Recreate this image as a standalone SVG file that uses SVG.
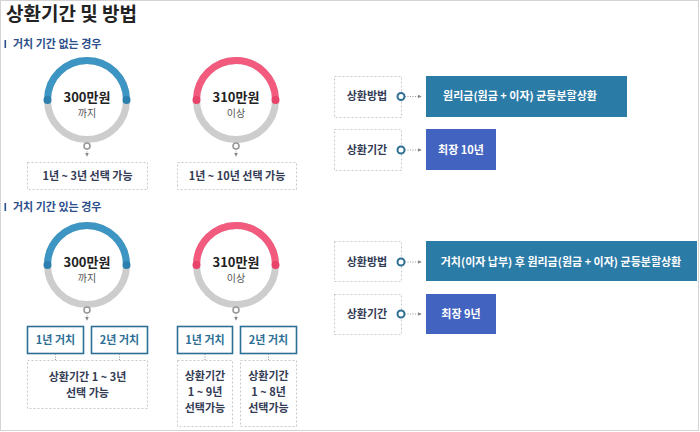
<svg xmlns="http://www.w3.org/2000/svg" width="700" height="432" viewBox="0 0 700 432">
<defs>
<style>
text{font-family:"Noto Sans CJK KR","Noto Sans",sans-serif;}
.title{font-size:19px;font-weight:bold;fill:#222;}
.sec{font-size:11px;font-weight:bold;fill:#2c4e8a;}
.amt{font-size:13px;font-weight:bold;fill:#222;text-anchor:middle;}
.sub{font-size:10px;fill:#555;text-anchor:middle;}
.lbl{font-size:11px;font-weight:bold;fill:#333b55;text-anchor:middle;}
.gc{font-size:11px;font-weight:bold;fill:#2e6f95;text-anchor:middle;}
.wt{font-size:11px;font-weight:bold;fill:#fff;text-anchor:middle;}
.dash{fill:#fff;stroke:#c8c8c8;stroke-width:1;stroke-dasharray:2 2;}
.gbox{fill:#fff;stroke:#2e6f95;stroke-width:1.6;}
.track{fill:none;stroke:#cdcdcd;stroke-width:7;}
.blue{fill:none;stroke:#3c95c2;stroke-width:7;}
.pink{fill:none;stroke:#f25a7e;stroke-width:7;}
.bdot{fill:#2d80ae;}
.pdot{fill:#e8436a;}
.knob{fill:#fff;stroke:#999;stroke-width:1.6;}
.dot{fill:#fff;stroke:#2e6f95;stroke-width:2;}
.dl{fill:none;stroke:#999;stroke-width:1;stroke-dasharray:1 1.5;}
.teal{fill:#2b7ba7;}
.indigo{fill:#4263c0;}
</style>
<marker id="ar" viewBox="0 0 6 6" refX="5" refY="3" markerWidth="4" markerHeight="4" orient="auto" markerUnits="userSpaceOnUse">
<path d="M0,0 L6,3 L0,6 z" fill="#888"/>
</marker>
</defs>
<rect x="0.5" y="0.5" width="698" height="430" fill="#fff" stroke="#d4d4d4"/>
<text class="title" x="6" y="21">상환기간 및 방법</text>

<g id="sec1-label"><rect x="4.5" y="40" width="1.6" height="8" fill="#2c4e8a"/><text class="sec" x="13" y="48">거치 기간 없는 경우</text></g>
<g id="sec2-label"><rect x="4.5" y="203" width="1.6" height="8" fill="#2c4e8a"/><text class="sec" x="13" y="211">거치 기간 있는 경우</text></g>

<g id="donut1">
<circle class="track" cx="87" cy="100" r="39.5"/>
<path class="blue" d="M47.5,100 A39.5,39.5 0 0 1 126.5,100"/>
<circle class="bdot" cx="47.5" cy="100" r="4"/><circle class="bdot" cx="126.5" cy="100" r="4"/>
<text class="amt" x="87" y="102">300만원</text>
<text class="sub" x="87" y="117">까지</text>
</g>
<g id="donut2">
<circle class="track" cx="236" cy="100" r="39.5"/>
<path class="pink" d="M196.5,100 A39.5,39.5 0 0 1 275.5,100"/>
<circle class="pdot" cx="196.5" cy="100" r="4"/><circle class="pdot" cx="275.5" cy="100" r="4"/>
<text class="amt" x="236" y="102">310만원</text>
<text class="sub" x="236" y="117">이상</text>
</g>
<g id="box1"><rect class="dash" x="27.5" y="162.5" width="120" height="27"/><text class="lbl" x="87.5" y="180">1년 ~ 3년 선택 가능</text></g>
<g id="box2"><rect class="dash" x="177.5" y="162.5" width="119" height="27"/><text class="lbl" x="237" y="180">1년 ~ 10년 선택 가능</text></g>

<g id="donut3">
<circle class="track" cx="87" cy="265" r="39.5"/>
<path class="blue" d="M47.5,265 A39.5,39.5 0 0 1 126.5,265"/>
<circle class="bdot" cx="47.5" cy="265" r="4"/><circle class="bdot" cx="126.5" cy="265" r="4"/>
<text class="amt" x="87" y="267">300만원</text>
<text class="sub" x="87" y="282">까지</text>
</g>
<g id="donut4">
<circle class="track" cx="236" cy="265" r="39.5"/>
<path class="pink" d="M196.5,265 A39.5,39.5 0 0 1 275.5,265"/>
<circle class="pdot" cx="196.5" cy="265" r="4"/><circle class="pdot" cx="275.5" cy="265" r="4"/>
<text class="amt" x="236" y="267">310만원</text>
<text class="sub" x="236" y="282">이상</text>
</g>

<g id="g1a"><rect class="gbox" x="27.5" y="326.5" width="56" height="27"/><text class="gc" x="55.5" y="344">1년 거치</text></g>
<g id="g1b"><rect class="gbox" x="91.5" y="326.5" width="56" height="27"/><text class="gc" x="119.5" y="344">2년 거치</text></g>
<g id="g2a"><rect class="gbox" x="177.5" y="326.5" width="55" height="27"/><text class="gc" x="205" y="344">1년 거치</text></g>
<g id="g2b"><rect class="gbox" x="240.5" y="326.5" width="56" height="27"/><text class="gc" x="268.5" y="344">2년 거치</text></g>

<g id="box3"><rect class="dash" x="27.5" y="360.5" width="120" height="48"/><text class="lbl" x="87.5" y="381">상환기간 1 ~ 3년</text><text class="lbl" x="87.5" y="397">선택 가능</text></g>
<g id="box4"><rect class="dash" x="177.5" y="360.5" width="55" height="66"/><text class="lbl" x="205" y="380">상환기간</text><text class="lbl" x="205" y="396">1 ~ 9년</text><text class="lbl" x="205" y="412">선택가능</text></g>
<g id="box5"><rect class="dash" x="240.5" y="360.5" width="56" height="66"/><text class="lbl" x="268.5" y="380">상환기간</text><text class="lbl" x="268.5" y="396">1 ~ 8년</text><text class="lbl" x="268.5" y="412">선택가능</text></g>

<g id="m1"><rect class="dash" x="334.5" y="76.5" width="67" height="41"/><text class="lbl" x="367" y="100">상환방법</text></g>
<g id="r1"><rect class="teal" x="426" y="76" width="201" height="41"/><text class="wt" x="520" y="100">원리금(원금 + 이자) 균등분할상환</text></g>
<g id="p1"><rect class="dash" x="334.5" y="129.5" width="67" height="41"/><text class="lbl" x="367" y="154">상환기간</text></g>
<g id="r2"><rect class="indigo" x="426" y="129" width="70" height="41"/><text class="wt" x="461" y="154">최장 10년</text></g>
<g id="m2"><rect class="dash" x="334.5" y="241.5" width="67" height="40"/><text class="lbl" x="367" y="266">상환방법</text></g>
<g id="r3"><rect class="teal" x="426" y="241" width="271" height="40"/><text class="wt" x="561" y="266">거치(이자 납부) 후 원리금(원금 + 이자) 균등분할상환</text></g>
<g id="p2"><rect class="dash" x="334.5" y="294.5" width="67" height="40"/><text class="lbl" x="367" y="318">상환기간</text></g>
<g id="r4"><rect class="indigo" x="426" y="294" width="70" height="40"/><text class="wt" x="461" y="318">최장 9년</text></g>

<g id="connectors">
<line class="dl" x1="87" y1="149" x2="87" y2="156" marker-end="url(#ar)"/><circle class="knob" cx="87" cy="146" r="3"/>
<line class="dl" x1="236" y1="149" x2="236" y2="156" marker-end="url(#ar)"/><circle class="knob" cx="236" cy="146" r="3"/>
<line class="dl" x1="87" y1="313" x2="87" y2="320" marker-end="url(#ar)"/><circle class="knob" cx="87" cy="310" r="3"/>
<line class="dl" x1="236" y1="313" x2="236" y2="320" marker-end="url(#ar)"/><circle class="knob" cx="236" cy="310" r="3"/>
<line class="dl" x1="55.5" y1="354" x2="55.5" y2="360"/>
<line class="dl" x1="119.5" y1="354" x2="119.5" y2="360"/>
<line class="dl" x1="205" y1="354" x2="205" y2="360"/>
<line class="dl" x1="268.5" y1="354" x2="268.5" y2="360"/>
<line class="dl" x1="405" y1="96.5" x2="421" y2="96.5" marker-end="url(#ar)"/><circle class="dot" cx="401" cy="96.5" r="3.5"/>
<line class="dl" x1="405" y1="150" x2="421" y2="150" marker-end="url(#ar)"/><circle class="dot" cx="401" cy="150" r="3.5"/>
<line class="dl" x1="405" y1="262" x2="421" y2="262" marker-end="url(#ar)"/><circle class="dot" cx="401" cy="262" r="3.5"/>
<line class="dl" x1="405" y1="314" x2="421" y2="314" marker-end="url(#ar)"/><circle class="dot" cx="401" cy="314" r="3.5"/>
</g>
</svg>
